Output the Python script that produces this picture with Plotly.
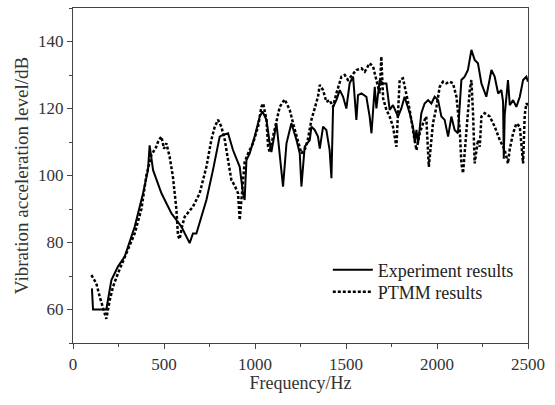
import plotly.graph_objects as go

freq_exp = [104, 110, 183, 211, 247, 284, 339, 385, 412, 421, 440, 486, 541, 596, 641, 659, 678, 733, 769, 806,
            824, 852, 879, 916, 934, 943, 953, 971, 998, 1026, 1041, 1063, 1081, 1090, 1118, 1154, 1173, 1200, 1228,
            1246, 1255, 1273, 1301, 1310, 1328, 1346, 1356, 1374, 1392, 1410, 1420, 1429, 1447, 1466, 1484, 1502,
            1520, 1539, 1557, 1566, 1585, 1612, 1630, 1640, 1658, 1667, 1685, 1704, 1722, 1740, 1758, 1786, 1804,
            1822, 1850, 1868, 1878, 1887, 1896, 1914, 1932, 1951, 1969, 1987, 2006, 2024, 2042, 2061, 2079, 2097,
            2115, 2134, 2152, 2170, 2189, 2207, 2225, 2244, 2271, 2299, 2317, 2336, 2354, 2363, 2367, 2372, 2390,
            2400, 2418, 2436, 2455, 2473, 2491, 2500]
level_exp = [66.3, 60, 60, 68.8, 72.8, 75.8, 84.7, 94.7, 101.6, 109, 101.6, 94.7, 88.7, 84.7, 79.8, 82.7, 82.7, 92.7,
             101.6, 111.6, 112.1, 112.6, 107.6, 102.6, 94.7, 92.7, 104.6, 106.6, 111.6, 117.6, 119.1, 116.6, 109.6,
             107, 115.6, 96.7, 109.6, 115.6, 110.6, 106.6, 96.7, 108.6, 110.6, 114.6, 113.6, 111.6, 108, 114.6,
             113.6, 107.6, 99.2, 120.5, 122.5, 125.5, 123.5, 120, 127.5, 129.5, 116.6, 124, 124.5, 123.5, 117.6,
             112.6, 126.5, 120, 128.5, 127.5, 127.5, 119.6, 121, 117.6, 120, 123.5, 118.6, 114.6, 110, 113.6, 109.6,
             118.6, 121.5, 122.5, 121.5, 123.5, 122.5, 117.6, 116.6, 111.6, 117.6, 113.6, 112.6, 128.5, 129.5,
             131.5, 137.5, 134.5, 133.5, 127.5, 123.5, 131.5, 129.5, 124.5, 125.5, 122, 105, 118, 128.5, 121,
             122.5, 120.5, 123.5, 128.5, 129.5, 128]

freq_ptmm = [101, 128, 147, 165, 183, 202, 220, 247, 293, 339, 376, 403, 430, 458, 470, 486, 500, 513, 531, 549,
             568, 577, 586, 600, 614, 659, 696, 733, 760, 779, 797, 815, 834, 852, 870, 888, 907, 916, 934, 943,
             962, 989, 1017, 1035, 1045, 1063, 1072, 1081, 1099, 1118, 1136, 1163, 1191, 1209, 1228, 1255, 1273,
             1290, 1310, 1328, 1346, 1356, 1374, 1392, 1410, 1429, 1447, 1475, 1493, 1511, 1539, 1557, 1585, 1603,
             1630, 1649, 1667, 1685, 1694, 1704, 1722, 1740, 1758, 1777, 1786, 1795, 1813, 1832, 1850, 1877, 1887,
             1905, 1923, 1941, 1955, 1978, 1997, 2015, 2033, 2051, 2070, 2088, 2107, 2125, 2134, 2143, 2161, 2180,
             2189, 2198, 2207, 2225, 2235, 2244, 2262, 2290, 2317, 2345, 2372, 2390, 2400, 2418, 2436, 2455, 2473,
             2482, 2491, 2500]
level_ptmm = [70.3, 67.8, 63.8, 60.8, 57.2, 62.8, 66.8, 70.8, 76.8, 82.7, 90, 100, 106, 108.6, 110.5, 111.6, 108,
              109.6, 105.6, 99.6, 90, 82, 81, 85, 87.7, 90.7, 94.7, 102.6, 110.6, 114.6, 116.6, 114.6, 110.6, 104.6,
              98.7, 97, 94.7, 86.7, 98.7, 104, 106.6, 109.6, 114.6, 120.5, 121.5, 116.6, 108.6, 107, 111.6, 116.6,
              120.5, 122.7, 119.6, 115.6, 111.6, 106.6, 107.6, 110.6, 116.6, 120.5, 123.5, 127, 125.5, 122, 122.5,
              120.5, 124.5, 129.5, 130, 128.5, 130.5, 131.5, 132, 131, 133.5, 132.5, 128.5, 124.5, 135.5, 123,
              119.6, 117.6, 114.6, 108.6, 119, 128.5, 129, 124.5, 119.6, 110.6, 107.6, 112.6, 115.5, 117.6, 102.6,
              115.6, 120.5, 126.5, 128, 127.5, 128, 127.5, 123.5, 113.6, 103.6, 100.7, 113.6, 125.5, 128.5, 118.6,
              103.6, 110.6, 108.6, 117.6, 118.6, 117.6, 114.6, 110.6, 107.6, 103.6, 108, 112.6, 115.5, 114.6, 103.6,
              118, 121.5, 121]

x_ticks = [0, 500, 1000, 1500, 2000, 2500]
y_ticks = [60, 80, 100, 120, 140]

FONT = "Liberation Serif"

fig = go.Figure()
fig.add_trace(go.Scatter(x=freq_exp, y=level_exp, mode="lines", name="Experiment results",
                         line=dict(color="black", width=2), legend="legend"))
fig.add_trace(go.Scatter(x=freq_ptmm, y=level_ptmm, mode="lines", name="PTMM results",
                         line=dict(color="black", width=2.5, dash="3px,2px"), legend="legend2"))

axis_common = dict(showline=True, linecolor="#444", linewidth=1.2, mirror=True, showgrid=False,
                   zeroline=False, ticks="outside", ticklen=5, tickcolor="#444", tickwidth=1,
                   tickfont=dict(family=FONT, size=17, color="#333"))

fig.update_xaxes(range=[0, 2500], tickvals=x_ticks, minor=dict(ticks="outside", ticklen=3, dtick=250,
                 tickcolor="#444"), title=dict(text="Frequency/Hz", font=dict(family=FONT, size=18, color="#333"),
                 standoff=2), **axis_common)
fig.update_yaxes(range=[50, 150], tickvals=y_ticks, minor=dict(ticks="outside", ticklen=3, dtick=10,
                 tickcolor="#444"), title=dict(text="Vibration acceleration level/dB",
                 font=dict(family=FONT, size=19, color="#333"), standoff=4), **axis_common)

leg_common = dict(xanchor="left", yanchor="middle", bgcolor="rgba(0,0,0,0)",
                  font=dict(family=FONT, size=18, color="#222"), itemwidth=40)

fig.update_layout(width=555, height=405, margin=dict(l=73, r=27, t=8, b=62),
                  plot_bgcolor="white", paper_bgcolor="white",
                  legend=dict(x=0.56, y=0.218, **leg_common),
                  legend2=dict(x=0.56, y=0.152, **leg_common),
                  showlegend=True)

fig.write_html("out.html")
